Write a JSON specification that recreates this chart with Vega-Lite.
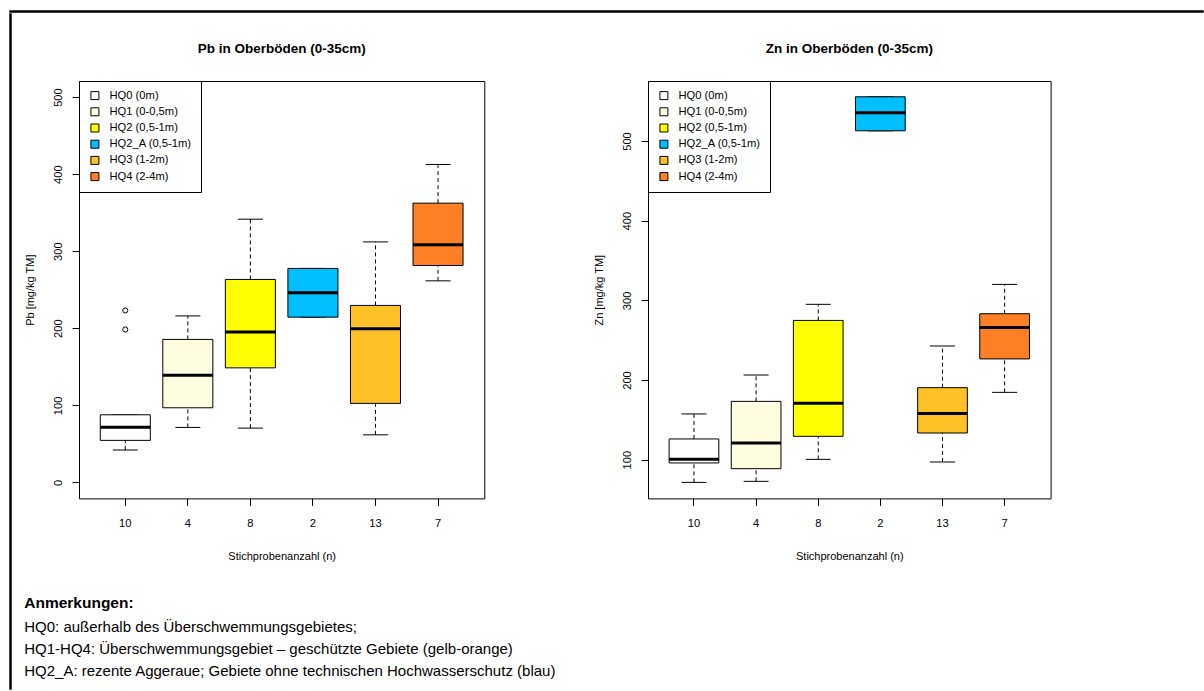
{
  "$schema": "https://vega.github.io/schema/vega-lite/v6.json",
  "padding": {"left": 9, "top": 10, "right": 0, "bottom": 0},
  "autosize": {"type": "pad"},
  "background": "white",
  "config": {
    "font": "Liberation Sans",
    "view": {"stroke": "black", "strokeWidth": 1},
    "axis": {"labelColor": "black", "titleColor": "black", "tickColor": "black", "domain": false, "grid": false, "labelFontSize": 11.2, "titleFontSize": 11, "titleFontWeight": "normal", "tickSize": 7, "tickWidth": 1, "labelOverlap": false},
    "axisX": {"labelAngle": 0, "labelPadding": 12, "titlePadding": 22},
    "axisY": {"labelAngle": 270, "labelAlign": "center", "labelBaseline": "bottom", "labelPadding": 8.5, "titlePadding": 17},
    "title": {"fontSize": 13.5, "fontWeight": "bold", "color": "black", "anchor": "middle", "baseline": "bottom", "offset": 25},
    "legend": {"orient": "top-left", "offset": 0, "padding": 9, "strokeColor": "black", "fillColor": "white", "labelFontSize": 11.2, "labelColor": "black", "symbolType": "square", "symbolSize": 64, "symbolStrokeColor": "black", "symbolStrokeWidth": 1, "symbolOffset": 1.3, "rowPadding": 3.2, "labelOffset": 9, "labelLimit": 300, "title": null}
  },
  "datasets": {
    "pb": [
      {"group": "HQ0 (0m)", "n": "10", "min": 42, "q1": 54.5, "median": 71.5, "q3": 87.7, "max": 87.7},
      {"group": "HQ1 (0-0,5m)", "n": "4", "min": 71.3, "q1": 96.8, "median": 139, "q3": 185.5, "max": 216},
      {"group": "HQ2 (0,5-1m)", "n": "8", "min": 70.4, "q1": 148.6, "median": 195, "q3": 263.3, "max": 341.5},
      {"group": "HQ2_A (0,5-1m)", "n": "2", "min": 214.4, "q1": 214.4, "median": 246, "q3": 277.6, "max": 277.6},
      {"group": "HQ3 (1-2m)", "n": "13", "min": 61.7, "q1": 102.5, "median": 199.2, "q3": 229.6, "max": 312},
      {"group": "HQ4 (2-4m)", "n": "7", "min": 261.5, "q1": 281.4, "median": 308.2, "q3": 362.3, "max": 412.5}
    ],
    "pbOut": [
      {"group": "HQ0 (0m)", "n": "10", "value": 223},
      {"group": "HQ0 (0m)", "n": "10", "value": 198.4}
    ],
    "zn": [
      {"group": "HQ0 (0m)", "n": "10", "min": 71.5, "q1": 95.9, "median": 100.4, "q3": 126, "max": 157.4},
      {"group": "HQ1 (0-0,5m)", "n": "4", "min": 72.8, "q1": 88.7, "median": 121, "q3": 173.2, "max": 206.3},
      {"group": "HQ2 (0,5-1m)", "n": "8", "min": 100.4, "q1": 129.3, "median": 170.7, "q3": 274.8, "max": 295},
      {"group": "HQ2_A (0,5-1m)", "n": "2", "min": 512.8, "q1": 512.8, "median": 535.4, "q3": 555.5, "max": 555.5},
      {"group": "HQ3 (1-2m)", "n": "13", "min": 97.1, "q1": 133.5, "median": 158.1, "q3": 190.4, "max": 242.7},
      {"group": "HQ4 (2-4m)", "n": "7", "min": 184.5, "q1": 226.5, "median": 266, "q3": 283.2, "max": 320}
    ],
    "empty": []
  },
  "title": {
    "text": "Anmerkungen:",
    "subtitle": ["HQ0: außerhalb des Überschwemmungsgebietes;", "HQ1-HQ4: Überschwemmungsgebiet – geschützte Gebiete (gelb-orange)", "HQ2_A: rezente Aggeraue; Gebiete ohne technischen Hochwasserschutz (blau)"],
    "orient": "bottom",
    "anchor": "start",
    "frame": "bounds",
    "baseline": "top",
    "offset": -94,
    "dx": 15,
    "fontSize": 15.5,
    "fontWeight": "bold",
    "color": "black",
    "subtitleFontSize": 15,
    "subtitleColor": "black",
    "subtitleLineHeight": 22.3,
    "subtitlePadding": 8.5
  },
  "spacing": 0,
  "vconcat": [
    {
      "width": 1193, "height": 1,
      "data": {"name": "empty"},
      "mark": {"type": "text"},
      "encoding": {"text": {"value": ""}},
      "view": {"stroke": "black", "strokeWidth": 1.5}
    },
    {
      "spacing": 12,
      "hconcat": [
        {
          "width": 1, "height": 675,
          "data": {"name": "empty"},
          "mark": {"type": "text"},
          "encoding": {"text": {"value": ""}},
          "view": {"stroke": "black", "strokeWidth": 1.5}
        },
        {
          "spacing": 26,
          "vconcat": [
            {
              "width": 1, "height": 1,
              "data": {"name": "empty"},
              "mark": {"type": "text"},
              "encoding": {"text": {"value": ""}},
              "view": {"stroke": null}
            },
            {
              "spacing": 107,
              "resolve": {"scale": {"x": "independent", "y": "independent", "color": "shared"}, "legend": {"color": "independent"}},
              "hconcat": [
                {
                  "width": 405.3, "height": 417.4,
                  "title": {"text": "Pb in Oberböden (0-35cm)", "frame": "group"},
                  "data": {"name": "pb"},
                  "encoding": {"x": {"field": "n", "type": "nominal", "title": "Stichprobenanzahl (n)", "scale": {"type": "band", "domain": ["10", "4", "8", "2", "13", "7"], "paddingInner": 0.2, "paddingOuter": 0.34}}},
                  "layer": [
                    {"mark": {"type": "rule", "color": "black", "strokeDash": [4, 3], "strokeWidth": 1},
                     "encoding": {"y": {"field": "q3", "type": "quantitative", "title": "Pb [mg/kg TM]", "scale": {"domain": [-20.8, 520.8], "nice": false, "zero": false}, "axis": {"values": [0, 100, 200, 300, 400, 500]}}, "y2": {"field": "max"}}},
                    {"mark": {"type": "rule", "color": "black", "strokeDash": [4, 3], "strokeWidth": 1},
                     "encoding": {"y": {"field": "min", "type": "quantitative", "title": "Pb [mg/kg TM]", "scale": {"domain": [-20.8, 520.8], "nice": false, "zero": false}, "axis": {"values": [0, 100, 200, 300, 400, 500]}}, "y2": {"field": "q1"}}},
                    {"mark": {"type": "tick", "color": "black", "size": 25, "thickness": 1, "opacity": 1},
                     "encoding": {"y": {"field": "max", "type": "quantitative", "title": "Pb [mg/kg TM]", "scale": {"domain": [-20.8, 520.8], "nice": false, "zero": false}, "axis": {"values": [0, 100, 200, 300, 400, 500]}}}},
                    {"mark": {"type": "tick", "color": "black", "size": 25, "thickness": 1, "opacity": 1},
                     "encoding": {"y": {"field": "min", "type": "quantitative", "title": "Pb [mg/kg TM]", "scale": {"domain": [-20.8, 520.8], "nice": false, "zero": false}, "axis": {"values": [0, 100, 200, 300, 400, 500]}}}},
                    {"mark": {"type": "bar", "stroke": "black", "strokeWidth": 1, "opacity": 1},
                     "encoding": {"y": {"field": "q1", "type": "quantitative", "title": "Pb [mg/kg TM]", "scale": {"domain": [-20.8, 520.8], "nice": false, "zero": false}, "axis": {"values": [0, 100, 200, 300, 400, 500]}}, "y2": {"field": "q3"},
                       "color": {"field": "group", "type": "nominal", "scale": {"domain": ["HQ0 (0m)", "HQ1 (0-0,5m)", "HQ2 (0,5-1m)", "HQ2_A (0,5-1m)", "HQ3 (1-2m)", "HQ4 (2-4m)"], "range": ["#ffffff", "#fffde0", "#ffff00", "#00bfff", "#ffc125", "#ff7f24"]}}}},
                    {"mark": {"type": "tick", "color": "black", "size": 50, "thickness": 3, "opacity": 1},
                     "encoding": {"y": {"field": "median", "type": "quantitative", "title": "Pb [mg/kg TM]", "scale": {"domain": [-20.8, 520.8], "nice": false, "zero": false}, "axis": {"values": [0, 100, 200, 300, 400, 500]}}}},
                    {"data": {"name": "pbOut"},
                     "mark": {"type": "point", "shape": "circle", "filled": false, "color": "black", "size": 26, "strokeWidth": 1, "opacity": 1},
                     "encoding": {"y": {"field": "value", "type": "quantitative", "title": "Pb [mg/kg TM]", "scale": {"domain": [-20.8, 520.8], "nice": false, "zero": false}, "axis": {"values": [0, 100, 200, 300, 400, 500]}}}}
                  ]
                },
                {
                  "width": 402.6, "height": 417.4,
                  "title": {"text": "Zn in Oberböden (0-35cm)", "frame": "group"},
                  "data": {"name": "zn"},
                  "encoding": {"x": {"field": "n", "type": "nominal", "title": "Stichprobenanzahl (n)", "scale": {"type": "band", "domain": ["10", "4", "8", "2", "13", "7"], "paddingInner": 0.2, "paddingOuter": 0.34}}},
                  "layer": [
                    {"mark": {"type": "rule", "color": "black", "strokeDash": [4, 3], "strokeWidth": 1},
                     "encoding": {"y": {"field": "q3", "type": "quantitative", "title": "Zn [mg/kg TM]", "scale": {"domain": [51.4, 575.3], "nice": false, "zero": false}, "axis": {"values": [100, 200, 300, 400, 500]}}, "y2": {"field": "max"}}},
                    {"mark": {"type": "rule", "color": "black", "strokeDash": [4, 3], "strokeWidth": 1},
                     "encoding": {"y": {"field": "min", "type": "quantitative", "title": "Zn [mg/kg TM]", "scale": {"domain": [51.4, 575.3], "nice": false, "zero": false}, "axis": {"values": [100, 200, 300, 400, 500]}}, "y2": {"field": "q1"}}},
                    {"mark": {"type": "tick", "color": "black", "size": 25, "thickness": 1, "opacity": 1},
                     "encoding": {"y": {"field": "max", "type": "quantitative", "title": "Zn [mg/kg TM]", "scale": {"domain": [51.4, 575.3], "nice": false, "zero": false}, "axis": {"values": [100, 200, 300, 400, 500]}}}},
                    {"mark": {"type": "tick", "color": "black", "size": 25, "thickness": 1, "opacity": 1},
                     "encoding": {"y": {"field": "min", "type": "quantitative", "title": "Zn [mg/kg TM]", "scale": {"domain": [51.4, 575.3], "nice": false, "zero": false}, "axis": {"values": [100, 200, 300, 400, 500]}}}},
                    {"mark": {"type": "bar", "stroke": "black", "strokeWidth": 1, "opacity": 1},
                     "encoding": {"y": {"field": "q1", "type": "quantitative", "title": "Zn [mg/kg TM]", "scale": {"domain": [51.4, 575.3], "nice": false, "zero": false}, "axis": {"values": [100, 200, 300, 400, 500]}}, "y2": {"field": "q3"},
                       "color": {"field": "group", "type": "nominal", "scale": {"domain": ["HQ0 (0m)", "HQ1 (0-0,5m)", "HQ2 (0,5-1m)", "HQ2_A (0,5-1m)", "HQ3 (1-2m)", "HQ4 (2-4m)"], "range": ["#ffffff", "#fffde0", "#ffff00", "#00bfff", "#ffc125", "#ff7f24"]}}}},
                    {"mark": {"type": "tick", "color": "black", "size": 50, "thickness": 3, "opacity": 1},
                     "encoding": {"y": {"field": "median", "type": "quantitative", "title": "Zn [mg/kg TM]", "scale": {"domain": [51.4, 575.3], "nice": false, "zero": false}, "axis": {"values": [100, 200, 300, 400, 500]}}}}
                  ]
                }
              ]
            }
          ]
        }
      ]
    }
  ]
}
